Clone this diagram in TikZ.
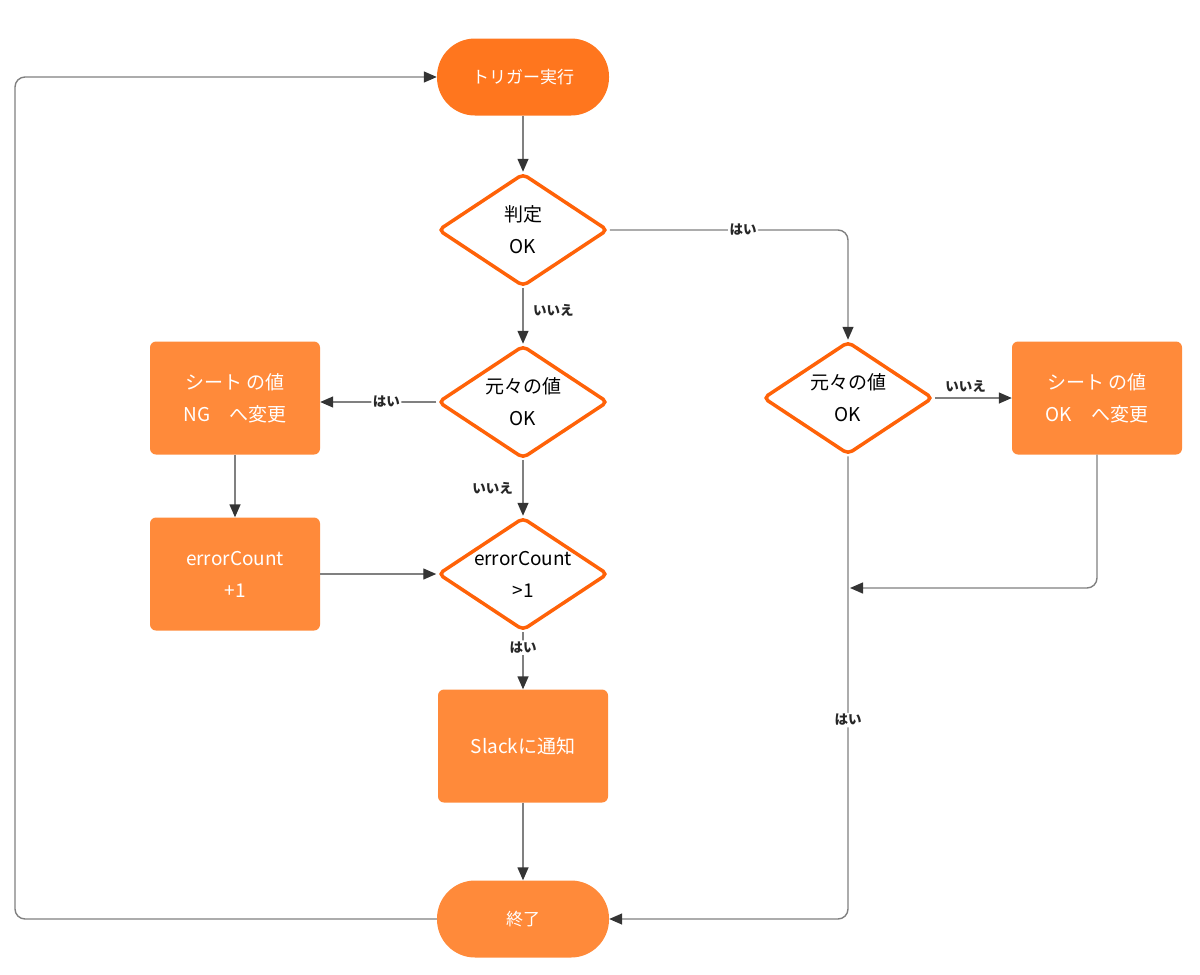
\documentclass[tikz,border=0pt]{standalone}
\usepackage{fontspec}
\setmainfont{Noto Sans CJK JP}
\usetikzlibrary{shapes.geometric,arrows.meta}
\definecolor{startorange}{RGB}{255,118,30}
\definecolor{boxorange}{RGB}{255,138,58}
\definecolor{rimorange}{RGB}{255,98,8}
\definecolor{linegray}{RGB}{128,128,128}
\definecolor{tipgray}{RGB}{52,52,52}
\tikzset{
  startterm/.style={rectangle,rounded corners=38pt,fill=startorange,minimum width=172pt,minimum height=77pt,text=white,font=\fontsize{17}{20}\selectfont},
  endterm/.style={startterm,fill=boxorange},
  procbox/.style={rectangle,rounded corners=6pt,fill=boxorange,minimum width=170pt,minimum height=113pt,text=white,align=center,font=\fontsize{19}{32}\selectfont},
  decision/.style={diamond,draw=rimorange,line width=3.5pt,rounded corners=5pt,fill=white,minimum width=170pt,minimum height=113pt,inner sep=0pt},
  dtext/.style={align=center,inner sep=0pt,font=\fontsize{19}{32}\selectfont},
  flow/.style={draw=linegray,line width=1.4pt,rounded corners=10pt,-{Triangle[length=13pt,width=11pt,color=tipgray]}},
  lbl/.style={font=\bfseries\fontsize{13.5}{15}\selectfont,text=black!85,inner sep=1.5pt},
  onlbl/.style={lbl,fill=white},
}
\begin{document}
\begin{tikzpicture}[x=1pt,y=-1pt]
\useasboundingbox (0,0) rectangle (1200,975);
% terminals
\node[startterm] (start) at (523,77) {トリガー実行};
\node[endterm] (finish) at (523,919) {終了};
% decisions
\node[decision,label={[dtext]center:判定\\OK}] (judge) at (523,230) {};
\node[decision,label={[dtext]center:元々の値\\OK}] (orig) at (523,402) {};
\node[decision,label={[dtext]center:errorCount\\>1}] (check) at (523,574) {};
\node[decision,label={[dtext]center:元々の値\\OK}] (rcheck) at (848,398) {};
% process boxes
\node[procbox] (ngset) at (235,398) {シート の値\\NG　へ変更};
\node[procbox] (countup) at (235,574) {errorCount\\+1};
\node[procbox] (slack) at (523,746) {Slackに通知};
\node[procbox] (okset) at (1097,398) {シート の値\\OK　へ変更};
\coordinate (merge) at (850,588);
\coordinate (backleft) at (15,500);

% straight arrows
\foreach \from/\to in {start/judge, slack/finish, ngset/countup}
  \draw[flow] (\from) -- (\to);
\draw[flow] (countup.east) -- (check.west);

% labelled branches
\draw[flow] (judge.east) -| (rcheck.north) node[onlbl,pos=0.28] {はい};
\draw[flow] (judge) -- (orig) node[lbl,pos=0.4,anchor=west,xshift=8pt] {いいえ};
\draw[flow] (orig.west) -- (orig.west -| ngset.east) node[onlbl,pos=0.43] {はい};
\draw[flow] (orig) -- (check) node[lbl,pos=0.5,anchor=east,xshift=-8pt] {いいえ};
\draw[flow] (check) -- (slack) node[onlbl,pos=0.27] {はい};
\draw[flow] (rcheck.east) -- (okset.west) node[lbl,pos=0.4,anchor=south,yshift=3pt] {いいえ};
\draw[flow] (okset.south) |- (merge);
\draw[flow] (rcheck.south) |- (finish.east) node[onlbl,pos=0.285] {はい};

% back to the trigger
\draw[flow] (finish.west) -| (backleft) |- (start.west);
\end{tikzpicture}
\end{document}
